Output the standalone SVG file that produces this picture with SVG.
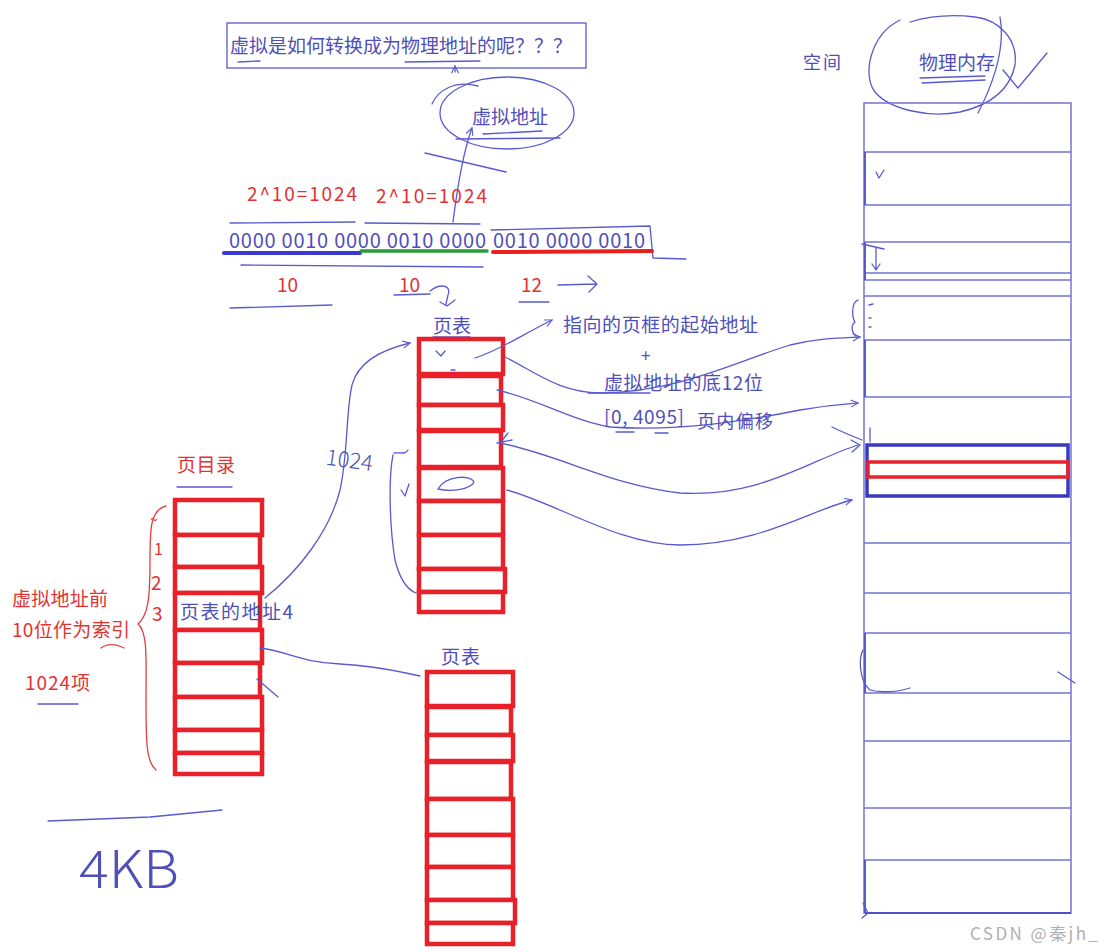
<svg xmlns="http://www.w3.org/2000/svg" width="1104" height="952" viewBox="0 0 1104 952">
<defs>
<style>
.t{font-family:"Noto Sans CJK SC","Noto Sans",sans-serif;}
.bt{fill:#4f4fb8;}
.rt{fill:#e23232;}
.hand{fill:none;stroke:#5a5ad0;stroke-width:1.3;stroke-linecap:round;stroke-linejoin:round;}
.redh{fill:none;stroke:#e04040;stroke-width:1.3;stroke-linecap:round;}
.cell{fill:#fff;stroke:#e8202a;stroke-width:4.5;}
.mem{fill:none;stroke:#7474d4;stroke-width:1.5;}
</style>
<marker id="ah" viewBox="0 0 10 10" refX="9" refY="5" markerWidth="9" markerHeight="9" orient="auto" markerUnits="userSpaceOnUse">
<path d="M1,1 L9,5 L1,9" fill="none" stroke="#5a5ad0" stroke-width="1.2"/>
</marker>
</defs>
<rect width="1104" height="952" fill="#fff"/>

<g id="title">
<rect x="227" y="23" width="359" height="45" fill="none" stroke="#5a5ac8" stroke-width="1.3"/>
<text class="t bt" x="230" y="53" font-size="19" textLength="342">虚拟是如何转换成为物理地址的呢？？？</text>
<path class="hand" d="M238,62 L260,61 M405,62 L480,61"/>
</g>

<g id="virtual-address">
<ellipse cx="507" cy="113" rx="67" ry="36" class="hand"/>
<path class="hand" d="M432,104 C438,90 455,80 478,86"/>
<text class="t bt" x="472" y="124" font-size="19" textLength="76">虚拟地址</text>
<path class="hand" d="M483,134 L542,131 M456,139 L560,138"/>
</g>

<g id="binary">
<text class="t rt" x="247" y="201" font-size="19" textLength="110">2^10=1024</text>
<text class="t rt" x="376" y="203" font-size="19" textLength="111">2^10=1024</text>
<path class="hand" d="M230,223 L355,222 M365,223 L480,224"/>
<text class="t bt" x="229" y="248" font-size="20" textLength="257">0000 0010 0000 0010 0000</text>
<text class="t bt" x="493" y="248" font-size="20" textLength="152">0010 0000 0010</text>
<path class="hand" d="M491,230 L650,226 L653,258 M653,258 L686,259"/>
<path d="M224,253 L360,253" stroke="#3a3ad0" stroke-width="4" stroke-linecap="round"/>
<path d="M361,251 L487,251" stroke="#2a9a3a" stroke-width="3.5" stroke-linecap="round"/>
<path d="M493,252 L652,251" stroke="#e82020" stroke-width="4" stroke-linecap="round"/>
<path class="hand" d="M241,265 L483,267"/>
<text class="t rt" x="277" y="292" font-size="19">10</text>
<text class="t rt" x="399" y="292" font-size="19">10</text>
<text class="t rt" x="521" y="292" font-size="19">12</text>
<path class="hand" d="M230,308 L332,305 M394,295 L430,294 M519,302 L549,302"/>
<path class="hand" d="M558,285 L596,284 M588,276 L597,284 L589,292"/>
<path class="hand" d="M430,291 C440,283 452,285 448,295 L446,304 M440,302 L447,306 L455,300"/>
</g>

<g id="page-directory">
<text class="t rt" x="177" y="472" font-size="19" textLength="58">页目录</text>
<path class="hand" d="M177,487 L232,487"/>
<rect class="cell" x="175" y="500" width="87" height="35"/>
<rect class="cell" x="175" y="535" width="85" height="32"/>
<rect class="cell" x="175" y="567" width="87" height="26"/>
<rect class="cell" x="175" y="593" width="85" height="37"/>
<rect class="cell" x="175" y="630" width="87" height="33"/>
<rect class="cell" x="175" y="663" width="85" height="34"/>
<rect class="cell" x="175" y="697" width="87" height="33"/>
<rect class="cell" x="175" y="730" width="87" height="23"/>
<rect class="cell" x="175" y="753" width="87" height="21"/>
<text class="t bt" x="180" y="619" font-size="19" textLength="113">页表的地址4</text>
<path class="redh" d="M166,506 C150,510 150,530 150,560 C150,600 148,615 138,624 C148,632 146,660 146,700 C146,740 146,762 156,770"/>
<text class="t rt" x="150" y="525" font-size="14">~</text>
<text class="t rt" x="154" y="555" font-size="16">1</text>
<text class="t rt" x="151" y="590" font-size="19">2</text>
<text class="t rt" x="152" y="621" font-size="19">3</text>
<text class="t rt" x="12" y="606" font-size="19" textLength="96">虚拟地址前</text>
<text class="t rt" x="12" y="637" font-size="19" textLength="118">10位作为索引</text>
<text class="t rt" x="25" y="690" font-size="19" textLength="65">1024项</text>
<path class="redh" d="M101,648 C108,643 116,644 124,648"/>
<path class="hand" d="M38,704 L78,704"/>
</g>

<g id="page-table-1">
<text class="t bt" x="433" y="333" font-size="19" textLength="38">页表</text>
<path class="hand" d="M433,337 L470,337"/>
<rect class="cell" x="419" y="339" width="84" height="35"/>
<rect class="cell" x="419" y="376" width="82" height="29"/>
<rect class="cell" x="419" y="405" width="84" height="25"/>
<rect class="cell" x="419" y="431" width="82" height="36"/>
<rect class="cell" x="419" y="468" width="84" height="33"/>
<rect class="cell" x="419" y="501" width="84" height="34"/>
<rect class="cell" x="419" y="535" width="84" height="34"/>
<rect class="cell" x="419" y="569" width="86" height="23"/>
<rect class="cell" x="419" y="592" width="84" height="20"/>
<path class="hand" d="M436,351 L441,356 L445,351 M451,370 L455,370 M438,489 C445,476 470,474 474,482 C470,490 450,492 438,489"/>
</g>

<g id="page-table-2">
<text class="t bt" x="441" y="664" font-size="19" textLength="39">页表</text>
<rect class="cell" x="427" y="672" width="86" height="34"/>
<rect class="cell" x="427" y="707" width="84" height="28"/>
<rect class="cell" x="427" y="735" width="86" height="26"/>
<rect class="cell" x="427" y="762" width="84" height="37"/>
<rect class="cell" x="427" y="799" width="86" height="36"/>
<rect class="cell" x="427" y="835" width="86" height="32"/>
<rect class="cell" x="427" y="867" width="86" height="33"/>
<rect class="cell" x="427" y="900" width="88" height="23"/>
<rect class="cell" x="427" y="923" width="86" height="21"/>
</g>

<g id="physical-memory">
<text class="t bt" x="803" y="69" font-size="18" textLength="38">空间</text>
<text class="t bt" x="919" y="70" font-size="19" textLength="76">物理内存</text>
<path class="hand" d="M920,78 L985,76 M922,83 L985,80"/>
<path class="hand" d="M900,20 C870,35 862,75 875,92 C890,110 930,118 960,112 C990,105 1010,90 1015,65 C1018,40 1000,20 975,17 C950,14 930,16 910,22"/>
<path class="hand" d="M1000,17 C1005,45 995,80 978,113 M1003,70 L1018,88 L1047,53"/>
<rect class="mem" x="864" y="103" width="207" height="810"/>
<path class="mem" d="M864,152 H1071 M864,205 H1071 M864,242 H1071 M864,273 H1071 M864,280 H1071 M864,296 H1071 M864,340 H1071 M864,397 H1071 M864,543 H1071 M864,593 H1071 M864,633 H1071 M864,693 H1071 M864,741 H1071 M864,808 H1071 M864,860 H1071"/>
<path d="M865,152 V205 M865,242 V280 M865,340 V397 M865,633 V693 M865,860 V913 M865,913 H1071" stroke="#5050c8" stroke-width="1.8" fill="none"/>
<rect x="867" y="445" width="201" height="51" fill="none" stroke="#3838c0" stroke-width="3.5"/>
<rect x="868" y="462" width="200" height="15" fill="none" stroke="#e8202a" stroke-width="3.5"/>
<path class="hand" d="M876,172 L879,178 L884,170 M876,247 V270 M872,264 L876,270 L880,264 M862,244 L884,249"/>
<path class="hand" d="M858,300 C851,302 852,318 855,322 C851,325 851,332 856,336 M869,305 L873,304 M869,318 L871,318 M869,327 L871,327"/>
<path class="hand" d="M870,428 V442 M863,650 C858,660 860,682 870,690 C880,693 898,692 910,688 M1058,672 L1075,683 M863,903 L868,913 L862,918"/>
</g>

<g id="connectors">
<path class="hand" marker-end="url(#ah)" d="M453,222 C457,190 462,155 472,128"/>
<path class="hand" d="M425,153 L506,172"/>
<path class="hand" marker-end="url(#ah)" d="M455,72 L455,66"/>
<path class="hand" marker-end="url(#ah)" d="M265,598 C300,570 330,530 340,490 C348,455 346,410 352,385 C358,362 380,350 410,343"/>
<path class="hand" d="M393,455 C388,480 390,530 395,560 C400,580 408,590 416,593 M394,453 C400,452 405,455 408,450"/>
<path class="hand" d="M401,490 L405,496 L409,484"/>
<text class="t bt" x="326" y="468" font-size="22" transform="rotate(8 350 460)" font-weight="300">1024</text>
<path class="hand" d="M260,648 C290,652 300,662 340,664 C380,666 400,672 420,676"/>
<path class="hand" d="M257,679 L278,697"/>
<path class="hand" marker-end="url(#ah)" d="M475,358 C500,350 520,336 552,320"/>
<text class="t bt" x="563" y="332" font-size="19" textLength="195">指向的页框的起始地址</text>
<text class="t bt" x="641" y="362" font-size="17">+</text>
<path class="hand" marker-end="url(#ah)" d="M505,357 C540,375 560,392 600,393 C680,392 740,360 790,345 C820,338 840,338 860,337"/>
<text class="t bt" x="604" y="390" font-size="19" textLength="159">虚拟地址的底12位</text>
<path class="hand" d="M588,393 L650,393"/>
<path class="hand" marker-end="url(#ah)" d="M497,390 C540,400 570,420 610,427 C680,432 750,420 800,410 C830,405 845,404 858,403"/>
<text class="t bt" x="604" y="424" font-size="19" textLength="80">[0, 4095]</text>
<text class="t bt" x="697" y="428" font-size="18" textLength="76">页内偏移</text>
<path class="hand" d="M616,432 L634,432 M655,433 L668,433"/>
<path class="hand" d="M497,443 L512,440 M500,443 L508,433 M500,443 C560,455 610,485 680,493 C760,498 810,460 858,445"/>
<path class="hand" d="M851,440 L860,445 L852,452"/>
<path class="hand" d="M832,427 C842,432 852,436 862,440"/>
<path class="hand" marker-end="url(#ah)" d="M507,490 C560,505 620,545 680,545 C760,545 810,510 852,500"/>
</g>

<g id="notes">
<path class="hand" d="M48,821 L150,817 L222,810"/>
<text class="t bt" x="79" y="888" font-size="52" font-weight="300" textLength="100" lengthAdjust="spacingAndGlyphs">4KB</text>
<text class="t" x="970" y="940" font-size="17" fill="#b0b0b0" textLength="128">CSDN @秦jh_</text>
</g>
</svg>
